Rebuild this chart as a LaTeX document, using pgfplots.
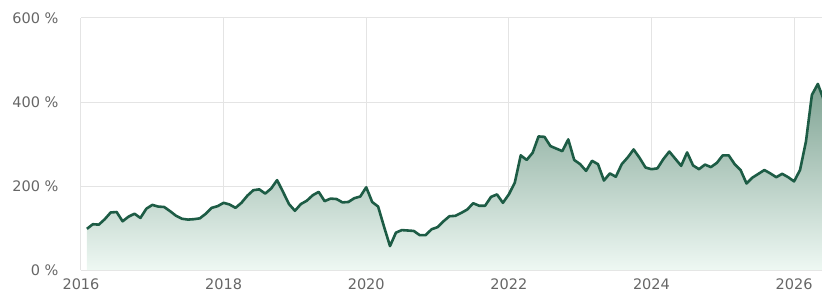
\documentclass[border=0pt]{standalone}
\usepackage{pgfplots}
\pgfplotsset{compat=1.18}
\usepackage{pgfplotstable}
\usepackage{fontspec}
\setmainfont{DejaVu Sans}
\definecolor{linec}{HTML}{1D5C45}
\definecolor{topc}{HTML}{7FA393}
\definecolor{botc}{HTML}{EEF8F3}
\definecolor{gridc}{HTML}{E4E4E4}
\definecolor{labc}{HTML}{666666}
\pgfplotstableread{
k v
0 98
1 109
2 108
3 121
4 137
5 138
6 116
7 127
8 134
9 124
10 146
11 155
12 151
13 150
14 140
15 129
16 122
17 120
18 121
19 123
20 134
21 148
22 152
23 160
24 156
25 148
26 160
27 177
28 190
29 192
30 182
31 194
32 214
33 186
34 157
35 141
36 157
37 165
38 178
39 186
40 164
41 170
42 169
43 161
44 162
45 171
46 175
47 197
48 162
49 151
50 103
51 57
52 89
53 95
54 94
55 93
56 83
57 83
58 97
59 102
60 116
61 128
62 129
63 136
64 144
65 159
66 153
67 153
68 174
69 180
70 160
71 180
72 208
73 273
74 262
75 279
76 318
77 317
78 295
79 289
80 283
81 311
82 262
83 252
84 236
85 260
86 252
87 213
88 230
89 222
90 252
91 268
92 287
93 267
94 244
95 240
96 242
97 264
98 282
99 265
100 248
101 280
102 249
103 240
104 251
105 245
106 255
107 273
108 273
109 252
110 238
111 206
112 220
113 229
114 238
115 230
116 221
117 229
118 221
119 211
120 238
121 306
122 417
123 443
124 405
}\datatable
\begin{document}
\begin{tikzpicture}
\path[use as bounding box] (-81pt,-30pt) rectangle (741pt,270pt);
\begin{axis}[
  scale only axis,
  width=741pt, height=252pt,
  xmin=-1, xmax=123.7,
  ymin=0, ymax=600,
  axis line style={draw=none},
  xtick={-1,23,47,71,95,119},
  xticklabels={2016,2018,2020,2022,2024,2026},
  ytick={0,200,400,600},
  yticklabels={0 \%,200 \%,400 \%,600 \%},
  grid=major,
  major grid style={gridc, line width=1pt},
  tick style={draw=none},
  tick label style={font=\fontsize{14.5}{17}\selectfont, text=labc},
  yticklabel style={anchor=east, xshift=-19pt},
  xticklabel style={yshift=-5pt},
  clip=true,
]
\addplot[draw=none, shade, top color=topc, bottom color=botc] table[x=k,y=v] {\datatable} \closedcycle;
\addplot[linec, line width=2.6pt, line join=round, mark=none] table[x=k,y=v] {\datatable};
\end{axis}
\end{tikzpicture}
\end{document}
